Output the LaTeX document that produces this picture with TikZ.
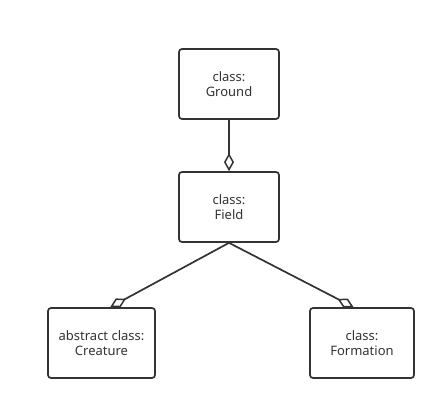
\documentclass[tikz,border=0pt]{standalone}
\usepackage{fontspec}
\setmainfont{Noto Sans}
\usetikzlibrary{arrows.meta,calc}
\definecolor{ink}{HTML}{333333}
\tikzset{
  cls/.style={draw=ink, line width=1.7pt, rounded corners=3pt, text=ink,
    minimum height=70pt, align=center, inner sep=0pt,
    font=\fontsize{13pt}{15.5pt}\selectfont},
  agg/.style={draw=ink, line width=1.7pt, -{Diamond[open, length=18pt, width=10pt, line width=1.5pt]}}
}
\begin{document}
\begin{tikzpicture}[x=1pt,y=-1pt]
\useasboundingbox (0,0) rectangle (446,409);
\fill[white] (0,0) rectangle (446,409);
\node[cls, minimum width=100pt] (ground) at (229,84) {class:\\Ground};
\node[cls, minimum width=100pt] (field) at (229,207) {class:\\Field};
\node[cls, minimum width=107pt] (creature) at (101.5,343) {abstract class:\\Creature};
\node[cls, minimum width=104pt] (formation) at (362,343) {class:\\Formation};
\coordinate (cin) at ($(creature.north west)!0.58!(creature.north east)$);
\coordinate (fin) at ($(formation.north west)!0.42!(formation.north east)$);
\draw[agg] (ground.south) -- (field.north);
\draw[agg] (field.south) -- (cin);
\draw[agg] (field.south) -- (fin);
\end{tikzpicture}
\end{document}
